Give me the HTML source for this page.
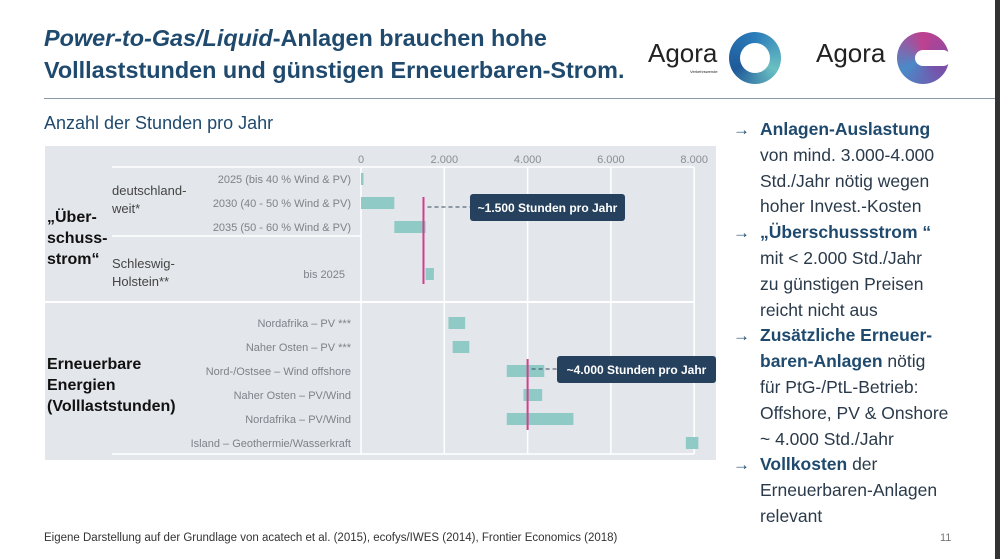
<!DOCTYPE html>
<html><head><meta charset="utf-8">
<style>
body{margin:0;width:1000px;height:559px;background:#fff;font-family:"Liberation Sans",sans-serif;position:relative;overflow:hidden}
.a{position:absolute}
h1{position:absolute;left:44px;top:22px;margin:0;font-size:23.4px;line-height:32px;color:#1f4a6e;font-weight:bold}
.rt{position:absolute;left:737px;top:117px;width:260px;font-size:17.5px;line-height:25.8px;color:#2a3a4a;white-space:nowrap}
.rt b{color:#1f4a6e}
.rt .ar{position:absolute;left:-4px;color:#1f4a6e;font-size:17px}
</style></head><body>
<h1><i>Power-to-Gas/Liquid</i>-Anlagen brauchen hohe<br>Volllaststunden und günstigen Erneuerbaren-Strom.</h1>
<div class="a" style="left:648px;top:38px;font-size:26px;color:#222">Agora<span style="font-size:4px;position:absolute;left:42px;top:31px">Verkehrswende</span></div>
<div class="a" style="left:729px;top:32px;width:52px;height:52px;border-radius:50%;background:conic-gradient(#2a7cba,#6bc0c2,#1f5a9a,#2a7cba)"><div class="a" style="left:11px;top:11px;width:30px;height:30px;border-radius:50%;background:#fff"></div></div>
<div class="a" style="left:816px;top:38px;font-size:26px;color:#222">Agora</div>
<div class="a" style="left:897px;top:32px;width:52px;height:52px;border-radius:50%;background:conic-gradient(#c0408f,#7a4fa8,#4a8ac8,#c0408f)"><div class="a" style="left:18px;top:18px;width:36px;height:16px;border-radius:8px;background:#fff"></div></div>
<div class="a" style="left:44px;top:98px;width:954px;height:1px;background:#8a9aaa"></div>
<div class="a" style="left:995px;top:0;width:5px;height:559px;background:#333"></div>
<div class="a" style="left:44px;top:113px;font-size:18px;color:#1f4a6e">Anzahl der Stunden pro Jahr</div>
<svg class="a" style="left:0;top:0" width="730" height="470" id="ch"></svg>
<div class="rt">
<div><span class="ar">→</span><div style="padding-left:23px"><b>Anlagen-Auslastung</b><br>von mind. 3.000-4.000<br>Std./Jahr nötig wegen<br>hoher Invest.-Kosten</div></div>
<div><span class="ar">→</span><div style="padding-left:23px"><b>„Überschussstrom “</b><br>mit &lt; 2.000 Std./Jahr<br>zu günstigen Preisen<br>reicht nicht aus</div></div>
<div><span class="ar">→</span><div style="padding-left:23px"><b>Zusätzliche Erneuer-<br>baren-Anlagen</b> nötig<br>für PtG-/PtL-Betrieb:<br>Offshore, PV &amp; Onshore<br>~ 4.000 Std./Jahr</div></div>
<div><span class="ar">→</span><div style="padding-left:23px"><b>Vollkosten</b> der<br>Erneuerbaren-Anlagen<br>relevant</div></div>
</div>
<div class="a" style="left:44px;top:532px;font-size:11.5px;color:#333">Eigene Darstellung auf der Grundlage von acatech et al. (2015), ecofys/IWES (2014), Frontier Economics (2018)</div>
<div class="a" style="left:940px;top:532px;font-size:11px;color:#777">11</div>
<script>
const categories=["2025 (bis 40 % Wind & PV)","2030 (40 - 50 % Wind & PV)","2035 (50 - 60 % Wind & PV)","bis 2025","Nordafrika – PV ***","Naher Osten – PV ***","Nord-/Ostsee – Wind offshore","Naher Osten – PV/Wind","Nordafrika – PV/Wind","Island – Geothermie/Wasserkraft"];
const rowY=[179,203,227,274,323,347,371,395,419,443];
const barStart=[0,0,800,1550,2100,2200,3500,3900,3500,7800];
const barEnd=[60,800,1550,1750,2500,2600,4400,4350,5100,8100];
const ticks=[0,2000,4000,6000,8000];
const tickLabels=["0","2.000","4.000","6.000","8.000"];
const refValues=[1500,4000];
const refLabels=["~1.500 Stunden pro Jahr","~4.000 Stunden pro Jahr"];
const NS="http://www.w3.org/2000/svg",s=document.getElementById('ch');
const x=v=>361+v*0.04165;
function mk(t,a,p){const e=document.createElementNS(NS,t);for(const k in a)e.setAttribute(k,a[k]);(p||s).appendChild(e);return e;}
mk('rect',{x:45,y:146,width:671,height:314,fill:'#e3e6ea'});
ticks.forEach((t,i)=>{
 const g=mk('line',{x1:x(t),x2:x(t),y1:167,y2:454,stroke:'#fff','stroke-width':1.5});
 
 
 const l=mk('text',{x:x(t),y:163,'text-anchor':'middle','font-size':11,fill:'#8a8f96'});l.textContent=tickLabels[i];
 
 
});
mk('line',{x1:112,x2:x(8000),y1:167,y2:167,stroke:'#fff','stroke-width':1.5});
mk('line',{x1:112,x2:361,y1:236,y2:236,stroke:'#fff','stroke-width':1.5});
mk('line',{x1:45,x2:x(8000),y1:302,y2:302,stroke:'#fff','stroke-width':2});
mk('line',{x1:112,x2:x(8000),y1:454,y2:454,stroke:'#fff','stroke-width':1.5});
categories.forEach((c,i)=>{
 const t=mk('text',{x:i==3?345:351,y:rowY[i]+4,'text-anchor':'end','font-size':11,fill:'#7d838a'});t.textContent=c;
 
 
 const r=mk('rect',{x:x(barStart[i]),y:rowY[i]-6,width:Math.max(2,x(barEnd[i])-x(barStart[i])),height:12,fill:'#8fcac6'});
 
 
});
const grp=[[["deutschland-","weit*"],112,195,13],[["Schleswig-","Holstein**"],112,268,13],[["„Über-","schuss-","strom“"],47,222,16],[["Erneuerbare","Energien","(Volllaststunden)"],47,369,16]];
grp.forEach(g=>g[0].forEach((l,j)=>{const t=mk('text',{x:g[1],y:g[2]+j*(g[3]+5),'font-size':g[3],fill:g[3]>14?'#111':'#444','font-weight':g[3]>14?'bold':'normal'});t.textContent=l;
 
 }));
const refY=[[197,284,207,470,155],[359,430,369,557,159]];
refValues.forEach((v,i)=>{
 const [a,b,ly,bx,bw]=refY[i];
 const l=mk('line',{x1:x(v),x2:x(v),y1:a,y2:b,stroke:'#d43f8d','stroke-width':2});
 
 
 mk('line',{x1:x(v)+4,x2:bx,y1:ly,y2:ly,stroke:'#3a4b5c','stroke-dasharray':'4 3'});
 const r=mk('rect',{x:bx,y:ly-13,width:bw,height:27,rx:3,fill:'#26415d'});
 
 
 const t=mk('text',{x:bx+bw/2,y:ly+5,'text-anchor':'middle','font-size':12,'font-weight':'bold',fill:'#fff'});t.textContent=refLabels[i];
});
</script>
</body></html>
